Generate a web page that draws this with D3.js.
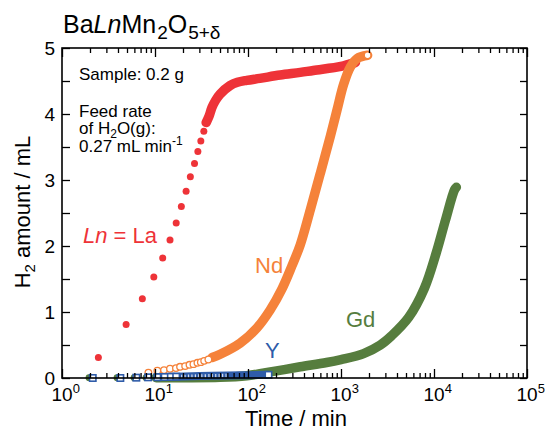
<!DOCTYPE html>
<html>
<head>
<meta charset="utf-8">
<script src="https://cdn.jsdelivr.net/npm/d3@7"></script>
<style>
  body { margin: 0; background: #fff; }
  text { font-family: "Liberation Sans", Arial, sans-serif; }
</style>
</head>
<body>
<script>
// time in min, H2 amount in mL
const laTime   = [2.46, 4.89, 7.31, 9.71, 12.1, 14.5, 16.9, 19.2, 21.6, 24.0, 26.6, 28.9, 31.1, 33.5, 35.5, 38.2,
                  41, 45, 50, 64, 77, 97, 134, 222, 365, 504, 1000, 1250, 1430];
const laAmount = [0.31, 0.81, 1.20, 1.53, 1.82, 2.09, 2.35, 2.60, 2.83, 3.05, 3.25, 3.43, 3.59, 3.74, 3.87, 3.97,
                  4.10, 4.21, 4.30, 4.43, 4.48, 4.51, 4.54, 4.59, 4.63, 4.66, 4.72, 4.76, 4.78];

const ndTime   = [8.49, 10.6, 12.5, 14.5, 16.8, 18.6, 21.1, 23.5, 25.9, 28.6, 31.1, 33.8, 37.5, 41.2,
                  50.2, 82.4, 125, 173, 232, 297, 365, 468, 599, 767, 906, 1067, 1259, 1487, 1932];
const ndAmount = [0.08, 0.11, 0.12, 0.14, 0.15, 0.17, 0.18, 0.20, 0.21, 0.23, 0.24, 0.26, 0.28, 0.31,
                  0.36, 0.53, 0.76, 1.03, 1.35, 1.70, 2.02, 2.55, 3.10, 3.66, 4.06, 4.45, 4.71, 4.84, 4.89];

const gdTime   = [2.0, 4.0, 6.1, 8.2, 10.3, 20, 50, 97, 188, 365, 700, 1000, 1750, 2650, 3500,
                  5350, 7890, 10540, 13270, 16600, 17400];
const gdAmount = [0.005, 0.005, 0.005, 0.005, 0.005, 0.005, 0.01, 0.035, 0.10, 0.17, 0.235, 0.28, 0.37, 0.50, 0.64,
                  0.92, 1.36, 1.89, 2.39, 2.85, 2.89];

const yTime    = [2.14, 4.24, 6.3, 8.43, 10.6, 12.7, 14.8, 16.9, 30, 60, 100, 166];
const yAmount  = [0.0, 0.0, 0.005, 0.01, 0.012, 0.015, 0.018, 0.02, 0.03, 0.038, 0.043, 0.048];

const xExponents = [0, 1, 2, 3, 4, 5];
const yLabels = [0, 1, 2, 3, 4, 5];

const W = 549, H = 430;
const red = "#ee3338", orange = "#f5823a", green = "#567d3e", blue = "#2f5ca9";

const svg = d3.select("body").append("svg")
  .attr("width", W).attr("height", H);

const x = d3.scaleLog().domain([1, 1e5]).range([62, 527]);
const y = d3.scaleLinear().domain([0, 5]).range([378, 48]);

const pts = (ts, vs) => ts.map((t, i) => ({t: t, v: vs[i]}));
const band = d3.line().x(d => x(d.t)).y(d => y(d.v)).curve(d3.curveCatmullRom.alpha(0.5));

// La: filled red circles, dense part as a band
const la = pts(laTime, laAmount);
svg.append("path").datum(la.filter(d => d.t >= 35))
  .attr("d", band).attr("fill", "none").attr("stroke", red)
  .attr("stroke-width", 9.5).attr("stroke-linecap", "round");
svg.selectAll(".la").data(la.filter(d => d.t < 40)).enter().append("circle")
  .attr("cx", d => x(d.t)).attr("cy", d => y(d.v)).attr("r", 3.5).attr("fill", red);

// Nd: open orange circles
const nd = pts(ndTime, ndAmount);
svg.append("path").datum(nd.filter(d => d.t >= 40))
  .attr("d", band).attr("fill", "none").attr("stroke", orange)
  .attr("stroke-width", 9.5).attr("stroke-linecap", "round");
svg.selectAll(".nd").data(nd.filter(d => d.t < 40).concat([nd[nd.length - 1]])).enter().append("circle")
  .attr("cx", d => x(d.t)).attr("cy", d => y(d.v)).attr("r", 3.3)
  .attr("fill", "#fff").attr("stroke", orange).attr("stroke-width", 1.3);

// Gd: filled green
const gd = pts(gdTime, gdAmount);
svg.append("path").datum(gd.filter(d => d.t >= 10))
  .attr("d", band).attr("fill", "none").attr("stroke", green)
  .attr("stroke-width", 9.5).attr("stroke-linecap", "round");
svg.selectAll(".gd").data(gd.filter(d => d.t < 11)).enter().append("circle")
  .attr("cx", d => x(d.t) - 1).attr("cy", d => y(d.v)).attr("r", 3.4).attr("fill", green);

// Y: open blue squares; the overlapping squares leave white slivers early on
const yy = pts(yTime, yAmount);
svg.append("path").datum(yy.filter(d => d.t >= 10))
  .attr("d", band).attr("fill", "none").attr("stroke", blue)
  .attr("stroke-width", 8);
svg.append("path").datum(yy.filter(d => d.t >= 10 && d.t <= 60))
  .attr("d", band).attr("fill", "none").attr("stroke", "#fff")
  .attr("stroke-width", 3.5).attr("stroke-dasharray", "1.2,2.2").attr("opacity", 0.8);
svg.selectAll(".ysq").data(yy.filter(d => d.t < 18).concat([yy[yy.length - 1]])).enter().append("rect")
  .attr("x", d => x(d.t) - 3.2).attr("y", d => y(d.v) - 3.2)
  .attr("width", 6.4).attr("height", 6.4)
  .attr("fill", "#fff").attr("stroke", blue).attr("stroke-width", 1.6);

// axes, ticks pointing inward
const majors = xExponents.map(e => Math.pow(10, e));
const minors = x.ticks().filter(v => !majors.includes(v));
const yTicks = y.ticks(10);

function styleAxis(g) {
  g.select(".domain").remove();
  g.selectAll("line").attr("stroke", "#000").attr("stroke-width", 1.3);
}
svg.append("g").attr("transform", "translate(0,378)")
  .call(d3.axisBottom(x).tickValues(majors).tickSize(-9).tickFormat("")).call(styleAxis);
svg.append("g").attr("transform", "translate(0,378)")
  .call(d3.axisBottom(x).tickValues(minors).tickSize(-5).tickFormat("")).call(styleAxis);
svg.append("g").attr("transform", "translate(0,48)")
  .call(d3.axisTop(x).tickValues(majors).tickSize(-9).tickFormat("")).call(styleAxis);
svg.append("g").attr("transform", "translate(0,48)")
  .call(d3.axisTop(x).tickValues(minors).tickSize(-5).tickFormat("")).call(styleAxis);
svg.append("g").attr("transform", "translate(62,0)")
  .call(d3.axisLeft(y).tickValues(yTicks).tickSize(-8).tickFormat("")).call(styleAxis);
svg.append("g").attr("transform", "translate(527,0)")
  .call(d3.axisRight(y).tickValues(yTicks).tickSize(-7).tickFormat("")).call(styleAxis);

svg.append("rect").attr("x", 62).attr("y", 48).attr("width", 465).attr("height", 330)
  .attr("fill", "none").attr("stroke", "#000").attr("stroke-width", 1.6);

// tick labels
const xl = svg.selectAll(".xl").data(xExponents).enter().append("text")
  .attr("x", e => x(Math.pow(10, e)) - 10.5).attr("y", 401)
  .attr("font-size", 19);
xl.append("tspan").text("10");
xl.append("tspan").attr("dy", -8).attr("font-size", 13).text(e => e);

svg.selectAll(".yl").data(yLabels).enter().append("text")
  .attr("x", 55).attr("y", d => y(d) + 6.5).attr("text-anchor", "end")
  .attr("font-size", 19).text(d => d);

// axis titles
svg.append("text").attr("x", 296).attr("y", 426).attr("text-anchor", "middle")
  .attr("font-size", 22).text("Time / min");
const yt = svg.append("text").attr("transform", "translate(30,212) rotate(-90)")
  .attr("text-anchor", "middle").attr("font-size", 22);
yt.append("tspan").text("H");
yt.append("tspan").attr("dy", 5).attr("font-size", 15).text("2");
yt.append("tspan").attr("dy", -5).text(" amount / mL");

// title
const tt = svg.append("text").attr("x", 63).attr("y", 33).attr("font-size", 25);
tt.append("tspan").text("Ba");
tt.append("tspan").attr("font-style", "italic").text("Ln");
tt.append("tspan").text("Mn");
tt.append("tspan").attr("dy", 6).attr("dx", 1).attr("font-size", 19).text("2");
tt.append("tspan").attr("dy", -6).text("O");
tt.append("tspan").attr("dy", 6).attr("dx", 1).attr("font-size", 19).text("5+δ");

// notes
const note = svg.append("g").attr("font-size", 17);
note.append("text").attr("x", 79).attr("y", 80).text("Sample: 0.2 g");
note.append("text").attr("x", 79).attr("y", 117).text("Feed rate");
const n2 = note.append("text").attr("x", 79).attr("y", 134);
n2.append("tspan").text("of H");
n2.append("tspan").attr("dy", 4).attr("font-size", 12).text("2");
n2.append("tspan").attr("dy", -4).text("O(g):");
const n3 = note.append("text").attr("x", 79).attr("y", 151.5);
n3.append("tspan").text("0.27 mL min");
n3.append("tspan").attr("dy", -7).attr("font-size", 12).text("-1");

// series labels
const lab = svg.append("text").attr("x", 83).attr("y", 243).attr("font-size", 22).attr("fill", red);
lab.append("tspan").attr("font-style", "italic").text("Ln");
lab.append("tspan").text(" = La");
svg.append("text").attr("x", 255).attr("y", 273).attr("font-size", 22).attr("fill", orange).text("Nd");
svg.append("text").attr("x", 346).attr("y", 327).attr("font-size", 22).attr("fill", green).text("Gd");
svg.append("text").attr("x", 265).attr("y", 358).attr("font-size", 22).attr("fill", blue).text("Y");
</script>
</body>
</html>
